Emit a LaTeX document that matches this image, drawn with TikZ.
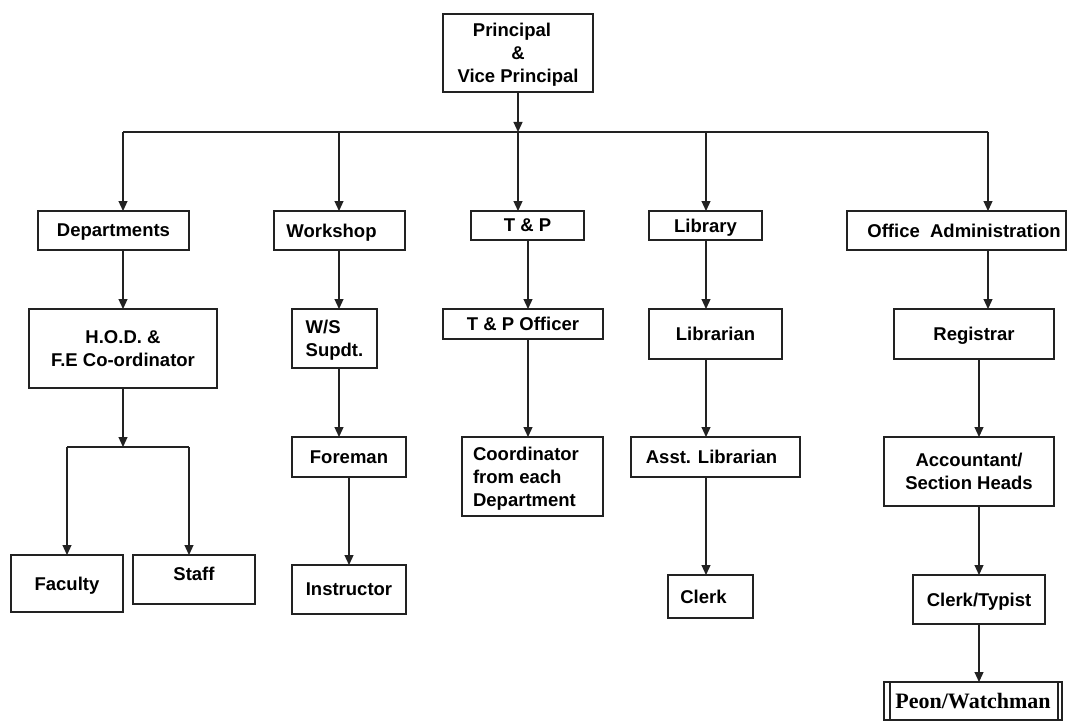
\documentclass[tikz,border=0pt]{standalone}
\usepackage{fontspec}
\setmainfont{Liberation Sans}
\newfontfamily\peonfont{Liberation Serif}
\usetikzlibrary{arrows.meta}
\definecolor{ink}{HTML}{222222}
\tikzset{
  box/.style={draw=ink, line width=1.2pt, fill=white, inner sep=0pt, outer sep=0pt,
    align=center, text depth=0pt, font=\fontsize{18.5}{23}\selectfont\bfseries},
  conn/.style={draw=ink, line width=1.2pt},
  arr/.style={conn, -{Triangle[width=9pt,length=10pt]}}
}
\begin{document}
\begin{tikzpicture}[x=1pt,y=-1pt]
\useasboundingbox (0,0) rectangle (1067,722);
% level 0
\node[box, minimum width=150pt, minimum height=78pt] (pr) at (518,53) {Principal\hspace*{12pt}\\\&\\Vice Principal};
% level 1
\node[box, minimum width=151pt, minimum height=39pt] (dept) at (113.5,230.5) {Departments};
\node[box, minimum width=131pt, minimum height=39pt] (wshop) at (339.5,230.5) {Workshop\hspace*{16pt}};
\node[box, minimum width=113pt, minimum height=29pt] (tp) at (527.5,225.5) {T \& P};
\node[box, minimum width=113pt, minimum height=29pt] (lib) at (705.5,225.5) {Library};
\node[box, minimum width=219pt, minimum height=39pt] (office) at (956.5,230.5) {\hspace*{15pt}Office\ \ Administration};
% level 2
\node[box, minimum width=188pt, minimum height=79pt] (hod) at (123,348.5) {H.O.D. \&\\F.E Co-ordinator};
\node[box, minimum width=85pt, minimum height=59pt, align=left] (ws) at (334.5,338.5) {W/S\\Supdt.};
\node[box, minimum width=160pt, minimum height=30pt] (tpo) at (523,324) {T \& P Officer};
\node[box, minimum width=133pt, minimum height=50pt] (libn) at (715.5,334) {Librarian};
\node[box, minimum width=160pt, minimum height=50pt] (reg) at (974,334) {Registrar};
% level 3
\node[box, minimum width=112pt, minimum height=57pt] (fac) at (67,583.5) {Faculty};
\node[box, minimum width=122pt, minimum height=49pt] (staff) at (194,579.5) {\raisebox{6pt}[\height][\depth]{Staff}};
\node[box, minimum width=114pt, minimum height=40pt] (fore) at (349,457) {Foreman};
\node[box, minimum width=114pt, minimum height=49pt] (instr) at (349,589.5) {Instructor};
\node[box, minimum width=141pt, minimum height=79pt, align=left] (coord) at (532.5,476.5) {Coordinator\hspace*{13pt}\\from each\\Department};
\node[box, minimum width=169pt, minimum height=40pt] (asst) at (715.5,457) {Asst. Librarian\hspace*{8pt}};
\node[box, minimum width=85pt, minimum height=43pt] (clerk) at (710.5,596.5) {Clerk\hspace*{14pt}};
\node[box, minimum width=170pt, minimum height=69pt] (acc) at (969,471.5) {Accountant/\\Section Heads};
\node[box, minimum width=132pt, minimum height=49pt] (ct) at (979,599.5) {Clerk/Typist};
\node[box, minimum width=178pt, minimum height=38pt, font=\fontsize{22}{26}\selectfont\peonfont\bfseries] (peon) at (973,701) {Peon/Watchman};
\draw[conn] ([xshift=6pt]peon.north west) -- ([xshift=6pt]peon.south west);
\draw[conn] ([xshift=-4pt]peon.north east) -- ([xshift=-4pt]peon.south east);
% bus coordinates
\coordinate (b1) at (123,132);
\coordinate (b2) at (339,132);
\coordinate (b3) at (518,132);
\coordinate (b4) at (706,132);
\coordinate (b5) at (988,132);
\coordinate (s1) at (67,447);
\coordinate (s2) at (189,447);
\coordinate (s0) at (123,447);
% connectors
\draw[conn] (b1) -- (b5);
\draw[arr] (pr.south) -- (b3);
\draw[arr] (b1) -- (b1 |- dept.north);
\draw[arr] (b2) -- (b2 |- wshop.north);
\draw[arr] (b3) -- (b3 |- tp.north);
\draw[arr] (b4) -- (b4 |- lib.north);
\draw[arr] (b5) -- (b5 |- office.north);
% departments column
\draw[arr] (b1 |- dept.south) -- (b1 |- hod.north);
\draw[arr] (b1 |- hod.south) -- (s0);
\draw[conn] (s1) -- (s2);
\draw[arr] (s1) -- (s1 |- fac.north);
\draw[arr] (s2) -- (s2 |- staff.north);
% workshop column
\draw[arr] (b2 |- wshop.south) -- (b2 |- ws.north);
\draw[arr] (b2 |- ws.south) -- (b2 |- fore.north);
\draw[arr] (fore.south) -- (instr.north);
% T&P column
\coordinate (t1) at (528,0);
\draw[arr] (t1 |- tp.south) -- (t1 |- tpo.north);
\draw[arr] (t1 |- tpo.south) -- (t1 |- coord.north);
% library column
\draw[arr] (b4 |- lib.south) -- (b4 |- libn.north);
\draw[arr] (b4 |- libn.south) -- (b4 |- asst.north);
\draw[arr] (b4 |- asst.south) -- (b4 |- clerk.north);
% office column
\coordinate (o1) at (979,0);
\draw[arr] (b5 |- office.south) -- (b5 |- reg.north);
\draw[arr] (o1 |- reg.south) -- (o1 |- acc.north);
\draw[arr] (o1 |- acc.south) -- (o1 |- ct.north);
\draw[arr] (o1 |- ct.south) -- (o1 |- peon.north);
\end{tikzpicture}
\end{document}
